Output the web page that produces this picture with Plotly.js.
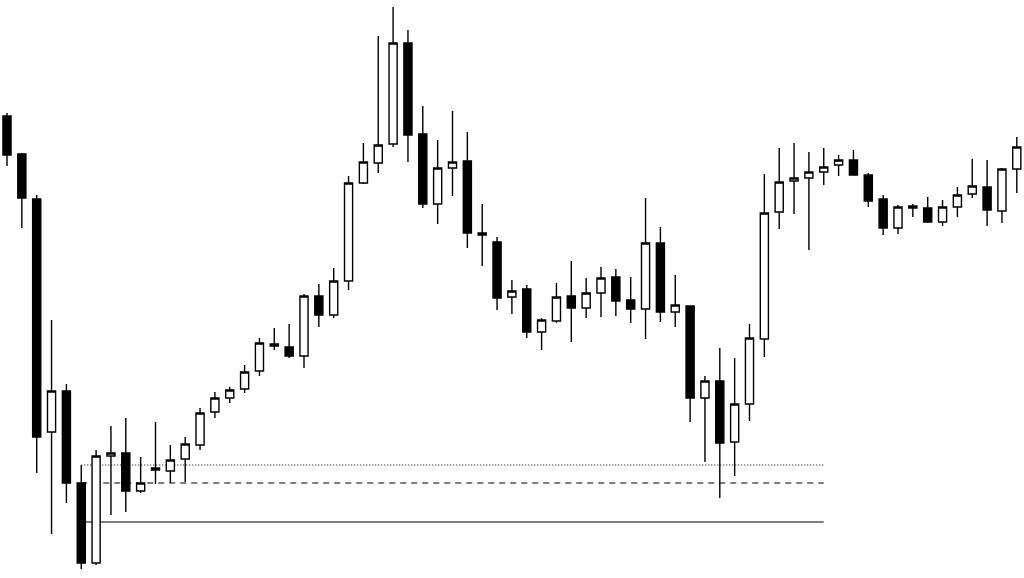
<!DOCTYPE html>
<html>
<head>
<meta charset="utf-8">
<script src="https://cdn.plot.ly/plotly-3.0.1.min.js"></script>
<style>
html,body{margin:0;padding:0;background:#fff;}
#chart{width:1024px;height:578px;}
</style>
</head>
<body>
<div id="chart"></div>
<script>
// Bar index (one candle per period)
var bars = [];
for (var i = 0; i < 69; i++) bars.push(i);

var openV  = [484,446,401,168,209,117, 37,144,147,109,132,129,141,155,188,202,211,229,256,253,
              244,304,285,319,417,437,456,557,466,396,432,439,367,358,303,311,268,279,304,292,
              307,323,300,291,357,288,294,202,219,158,196,261,388,419,422,428,435,440,425,401,
              372,394,392,378,393,406,413,389,431];
var highV  = [487,447,405,280,216,135,150,174,182,143,178,155,163,192,208,213,235,262,272,276,
              306,316,332,424,457,564,593,570,494,460,489,468,396,363,320,315,282,317,339,322,
              333,331,323,402,373,325,294,224,252,242,276,426,452,457,448,452,445,450,427,405,
              395,396,403,400,413,441,440,432,463];
var lowV   = [434,372,127, 66, 97, 31, 35, 85, 88,107,116,117,118,150,182,197,207,224,250,242,
              232,273,282,310,416,427,453,438,392,376,404,352,334,290,286,262,250,277,258,282,
              283,284,277,261,278,273,178,138,102,124,179,243,371,386,350,415,424,425,393,365,
              366,383,377,374,383,402,374,377,407];
var closeV = [445,402,163,209,117, 37,144,147,109,117,130,140,156,187,202,210,228,257,254,244,
              304,285,319,417,438,455,557,465,396,432,438,367,365,302,309,268,280,303,292,307,
              322,299,291,357,288,295,202,219,157,196,262,387,418,422,428,433,440,425,399,372,
              393,392,378,393,405,414,390,431,453];

// Horizontal reference levels
var levelStart = 5, levelEnd = 55;
var levelDotted = 135, levelDashed = 117, levelSolid = 78;

var trace = {
  type: 'candlestick',
  x: bars, open: openV, high: highV, low: lowV, close: closeV,
  increasing: {line: {color: '#000', width: 1.4}, fillcolor: '#fff'},
  decreasing: {line: {color: '#000', width: 1.4}, fillcolor: '#000'},
  whiskerwidth: 0,
  hoverinfo: 'none',
  showlegend: false
};

var lineStyle = function (y, dash, w) {
  return {type: 'line', xref: 'x', yref: 'y', x0: levelStart, x1: levelEnd, y0: y, y1: y,
          layer: 'below', line: {color: '#000', width: w, dash: dash}};
};

var layout = {
  width: 1024, height: 578,
  margin: {l: 0, r: 0, t: 0, b: 0},
  paper_bgcolor: '#fff', plot_bgcolor: '#fff',
  showlegend: false,
  boxgap: 0.22,
  xaxis: {range: [-0.4714, 68.485], visible: false, showgrid: false, zeroline: false,
          rangeslider: {visible: false}},
  yaxis: {range: [22, 600], visible: false, showgrid: false, zeroline: false},
  shapes: [
    lineStyle(levelDotted, '1px,2px', 1),
    lineStyle(levelDashed, '6px,5px', 1.2),
    lineStyle(levelSolid, 'solid', 1.2)
  ]
};

Plotly.newPlot('chart', [trace], layout, {staticPlot: true, displayModeBar: false});
</script>
</body>
</html>
